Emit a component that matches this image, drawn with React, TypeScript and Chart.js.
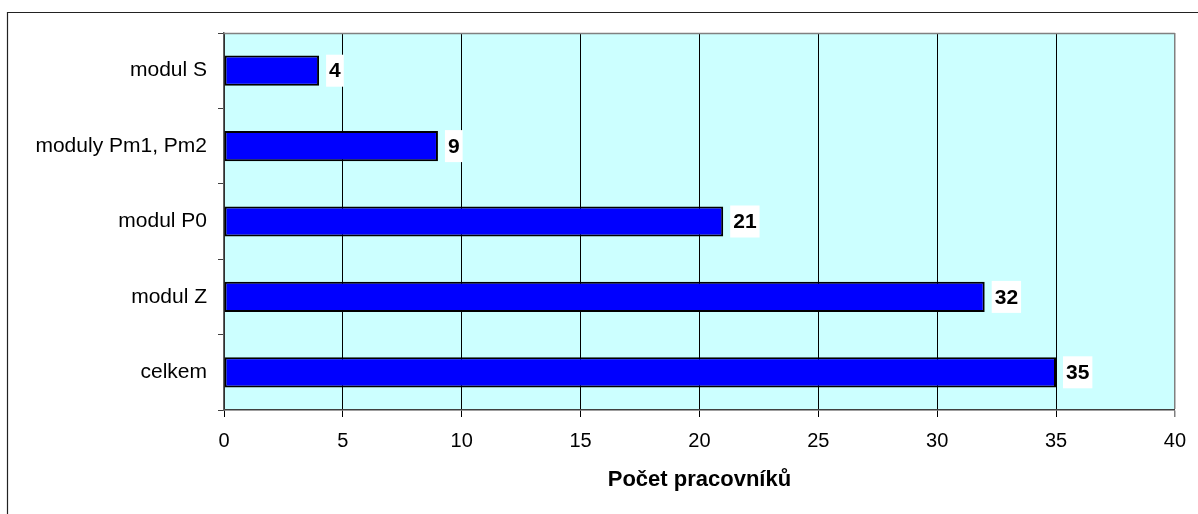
import React, { useEffect, useRef } from "react";
import { Chart, registerables } from "chart.js";

Chart.register(...registerables);

const categories = ["modul S", "moduly Pm1, Pm2", "modul P0", "modul Z", "celkem"];
const workers = [4, 9, 21, 32, 35];
const xTicksMax = 40;
const xTicksStep = 5;
const axisTitle = "Počet pracovníků";

const FONT = "'Liberation Sans', Arial, sans-serif";

const decorPlugin = {
  id: "decor",
  beforeDraw(chart: any) {
    const { ctx, chartArea, width, height } = chart;
    ctx.save();
    ctx.fillStyle = "#ffffff";
    ctx.fillRect(0, 0, width, height);
    ctx.fillStyle = "#CCFFFF";
    ctx.fillRect(chartArea.left, chartArea.top, chartArea.right - chartArea.left, chartArea.bottom - chartArea.top);
    ctx.strokeStyle = "#222222";
    ctx.lineWidth = 1.2;
    ctx.beginPath();
    ctx.moveTo(7.5, height + 5);
    ctx.lineTo(7.5, 12.5);
    ctx.lineTo(width + 5, 12.5);
    ctx.stroke();
    ctx.restore();
  },
  afterDraw(chart: any) {
    const { ctx, chartArea } = chart;
    ctx.save();
    ctx.strokeStyle = "#808080";
    ctx.lineWidth = 1.5;
    ctx.beginPath();
    ctx.moveTo(chartArea.left, chartArea.top + 0.5);
    ctx.lineTo(chartArea.right, chartArea.top + 0.5);
    ctx.stroke();
    ctx.restore();
  },
};

const labelPlugin = {
  id: "valueLabels",
  afterDatasetsDraw(chart: any) {
    const { ctx } = chart;
    const meta = chart.getDatasetMeta(0);
    ctx.save();
    ctx.font = `bold 21px ${FONT}`;
    ctx.textBaseline = "middle";
    ctx.textAlign = "left";
    meta.data.forEach((bar: any, i: number) => {
      const text = String(workers[i]);
      const tw = ctx.measureText(text).width;
      const bx = bar.x + 7;
      const bh = 32;
      ctx.fillStyle = "#ffffff";
      ctx.fillRect(bx, bar.y - bh / 2, tw + 6, bh);
      ctx.fillStyle = "#000000";
      ctx.fillText(text, bx + 3, bar.y + 1);
    });
    ctx.restore();
  },
};

export default function App() {
  const ref = useRef<HTMLCanvasElement>(null);
  useEffect(() => {
    if (!ref.current) return;
    const chart = new Chart(ref.current, {
      type: "bar",
      data: {
        labels: categories,
        datasets: [
          {
            data: workers,
            backgroundColor: "#0000FF",
            borderColor: "#000000",
            borderWidth: 2,
            borderSkipped: false,
            categoryPercentage: 1,
            barPercentage: 0.4,
          },
        ],
      },
      plugins: [decorPlugin, labelPlugin],
      options: {
        indexAxis: "y",
        animation: false,
        responsive: false,
        devicePixelRatio: 1,
        layout: { padding: { left: 0, top: 33, right: 23, bottom: 0 } },
        plugins: { legend: { display: false }, tooltip: { enabled: false } },
        scales: {
          x: {
            type: "linear",
            min: 0,
            max: xTicksMax,
            afterFit(scale: any) {
              scale.height = 104;
            },
            ticks: {
              stepSize: xTicksStep,
              color: "#000",
              font: { family: FONT, size: 20 },
              padding: 12,
            },
            grid: {
              color: (c: any) => (c.tick && c.tick.value === xTicksMax ? "#808080" : "#000000"),
              lineWidth: (c: any) => (c.tick && c.tick.value === xTicksMax ? 1.5 : 1),
              tickLength: 7,
              drawTicks: true,
            },
            border: { color: "#404040", width: 1.5 },
            title: {
              display: true,
              text: axisTitle,
              color: "#000",
              font: { family: FONT, size: 22, weight: "bold" },
              padding: { top: 0, bottom: 21 },
            },
          },
          y: {
            type: "category",
            afterFit(scale: any) {
              scale.width = 224;
            },
            ticks: {
              color: "#000",
              font: { family: FONT, size: 21 },
              padding: 11,
            },
            grid: {
              drawOnChartArea: false,
              drawTicks: true,
              tickLength: 6,
              color: "#404040",
              offset: true,
            },
            border: { color: "#606060", width: 1.5 },
          },
        },
      },
    } as any);
    return () => chart.destroy();
  }, []);
  return (
    <div style={{ position: "absolute", left: 0, top: 0, width: 1198, height: 514 }}>
      <canvas ref={ref} width={1198} height={514} style={{ display: "block" }} />
    </div>
  );
}
